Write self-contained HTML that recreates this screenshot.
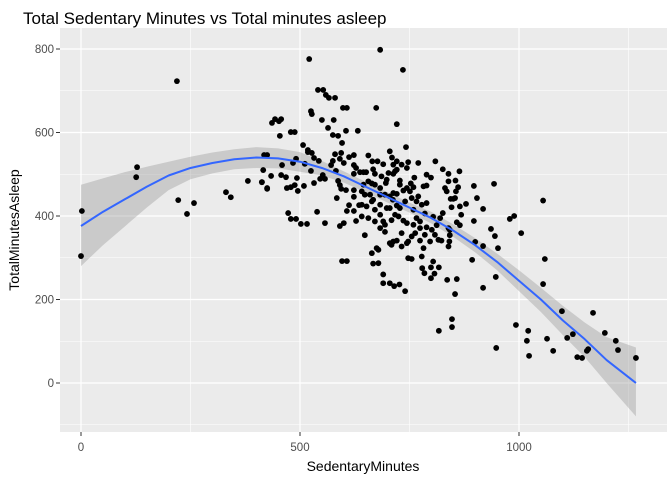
<!DOCTYPE html>
<html><head><meta charset="utf-8"><style>
body{margin:0;background:#fff;}
svg text{font-family:"Liberation Sans",sans-serif;}
</style></head><body>
<svg id="chart" width="672" height="480">
<rect width="672" height="480" fill="#fff"/>
<text x="23" y="24" font-size="17" fill="#000">Total Sedentary Minutes vs Total minutes asleep</text>
<rect x="60" y="28" width="607" height="404" fill="#ebebeb"/>
<g id="grid"></g><g id="band"></g><g id="pts"></g><g id="line"></g><g id="axes"></g>
<text x="363" y="471" font-size="14" text-anchor="middle" fill="#000">SedentaryMinutes</text>
<text transform="translate(19,230) rotate(-90)" font-size="14" text-anchor="middle" fill="#000">TotalMinutesAsleep</text>
</svg>
<script>
const xTicks=[0,500,1000];
const yTicks=[0,200,400,600,800];
const xMinor=[250,750,1250];
const yMinor=[-100,100,300,500,700];
const sedX=[0,2,128,126,219,222,242,258,331,342,381,413,425,416,452,457,454,488,488,491,495,516,521,553,559,580,577,607,607,683,735,674,721,742,
1055,1059,1055,1098,1169,1196,1221,1226,1267,1110,1123,1158,1155,1133,1144,1078,1064,1023,1018,1021,993,948,1005,989,979,943,947,918,893,936,945,952,918,900,897,904,897,918,879,868,817,847,847,854,836,858,
507,518,525,527,550,564,575,587,596,605,598,566,541,632,518,527,532,511,525,509,493,532,539,557,502,473,479,470,479,468,457,459,484,491,543,552,546,557,571,575,580,594,591,600,612,623,623,628,623,582,587,591,594,605,623,584,623,612,607,623,635,591,600,628,596,436,443,479,418,425,434,413,425,
656,665,677,690,705,710,713,717,721,732,744,747,770,809,826,839,864,789,799,761,753,728,713,698,696,667,671,645,651,637,664,671,683,694,705,713,721,736,751,759,770,782,789,831,835,839,855,861,856,850,844,854,865,846,826,804,785,774,766,759,740,728,721,712,705,698,683,667,660,648,641,641,652,671,683,690,694,709,717,725,736,744,759,774,789,801,812,820,839,842,858,865,842,841,839,823,816,808,797,785,782,774,763,755,747,744,732,732,721,713,709,705,694,683,671,656,648,641,675,679,664,667,679,690,690,705,715,727,740,747,755,778,779,784,799,804,807,799,817,656,686,702,721,728,744,755,766,778,789,683,664,645];
const sleepY=[304,412,517,493,723,438,405,431,457,445,484,481,465,510,627,632,592,601,474,393,460,381,776,702,690,683,630,659,292,798,750,659,620,565,
437,297,237,172,168,120,101,79,60,108,117,81,77,62,60,77,106,65,101,125,139,84,359,400,393,477,254,228,295,369,352,323,328,338,388,443,472,417,429,403,125,153,134,213,247,249,
570,558,651,644,630,611,594,592,575,604,659,683,702,604,553,551,539,525,508,472,491,479,410,383,381,407,393,467,469,493,498,522,527,537,532,498,489,489,522,532,548,551,537,527,541,546,522,515,501,508,484,474,465,462,462,443,446,426,412,412,426,376,383,388,292,623,632,601,546,546,496,481,467,
545,531,531,524,555,540,523,507,511,523,515,529,527,531,512,501,507,499,492,492,478,485,501,487,479,512,501,505,505,505,478,475,467,451,447,455,453,461,459,469,447,471,473,467,459,483,485,469,459,441,441,443,423,421,407,398,406,387,395,415,435,419,425,439,419,419,427,439,451,451,459,427,423,415,403,387,379,390,403,399,389,383,379,371,373,367,378,395,371,367,385,378,354,339,327,341,343,355,339,355,323,341,359,351,339,335,327,359,341,339,331,335,362,371,387,395,354,399,323,319,311,286,287,260,239,239,232,236,220,299,297,303,275,263,277,291,262,251,277,483,495,503,531,475,467,443,435,427,431,451,435,475];
const fitX=[0,50,100,150,200,250,300,350,400,450,500,550,600,650,700,750,800,850,900,950,1000,1050,1100,1150,1200,1267];
const fitY=[376,410,440,470,497,515,527,536,540,538,530,515,495,470,445,420,395,365,330,290,245,200,150,105,55,0];
const bandUp=[475,490,505,518,530,542,552,560,565,562,553,532,507,482,457,432,410,380,347,310,270,228,185,145,110,85];
const bandLo=[280,330,375,420,462,488,502,512,515,514,506,497,480,457,432,408,382,350,313,270,220,170,115,62,0,-80];
const X=v=>81+(v-0)*0.438, Y=v=>383-v*0.4175;
const NS="http://www.w3.org/2000/svg";
function mk(t,a,p){const e=document.createElementNS(NS,t);for(const k in a)e.setAttribute(k,a[k]);p.appendChild(e);return e;}
const grid=document.getElementById('grid');
xMinor.forEach(v=>{const l=mk('line',{x1:X(v),x2:X(v),y1:28,y2:432,stroke:'#fff','stroke-width':0.6},grid);

});
yMinor.forEach(v=>{const l=mk('line',{x1:60,x2:667,y1:Y(v),y2:Y(v),stroke:'#fff','stroke-width':0.6},grid);

});
const axes=document.getElementById('axes');
xTicks.forEach(v=>{const l=mk('line',{x1:X(v),x2:X(v),y1:28,y2:432,stroke:'#fff','stroke-width':1.2},grid);


const tk=mk('line',{x1:X(v),x2:X(v),y1:432,y2:436,stroke:'#333','stroke-width':1},axes);


const t=mk('text',{x:X(v),y:451,'font-size':11.5,'text-anchor':'middle',fill:'#4d4d4d'},axes);t.textContent=v;

});
yTicks.forEach(v=>{const l=mk('line',{x1:60,x2:667,y1:Y(v),y2:Y(v),stroke:'#fff','stroke-width':1.2},grid);


const tk=mk('line',{x1:56,x2:60,y1:Y(v),y2:Y(v),stroke:'#333','stroke-width':1},axes);


const t=mk('text',{x:54,y:Y(v)+4,'font-size':11.5,'text-anchor':'end',fill:'#4d4d4d'},axes);t.textContent=v;

});
let d='';fitX.forEach((v,i)=>d+=(i?'L':'M')+X(v)+','+Y(bandUp[i]));
for(let i=fitX.length-1;i>=0;i--)d+='L'+X(fitX[i])+','+Y(bandLo[i]);
const band=mk('path',{d:d+'Z',fill:'#999','fill-opacity':0.4},document.getElementById('band'));


const pg=document.getElementById('pts');
sedX.forEach((v,i)=>{const c=mk('circle',{cx:X(v),cy:Y(sleepY[i]),r:2.9,fill:'#000'},pg);

});
let ld='';fitX.forEach((v,i)=>ld+=(i?'L':'M')+X(v)+','+Y(fitY[i]));
const ln=mk('path',{d:ld,fill:'none',stroke:'#3366ff','stroke-width':2,'stroke-linejoin':'round'},document.getElementById('line'));


</script>
</body></html>
